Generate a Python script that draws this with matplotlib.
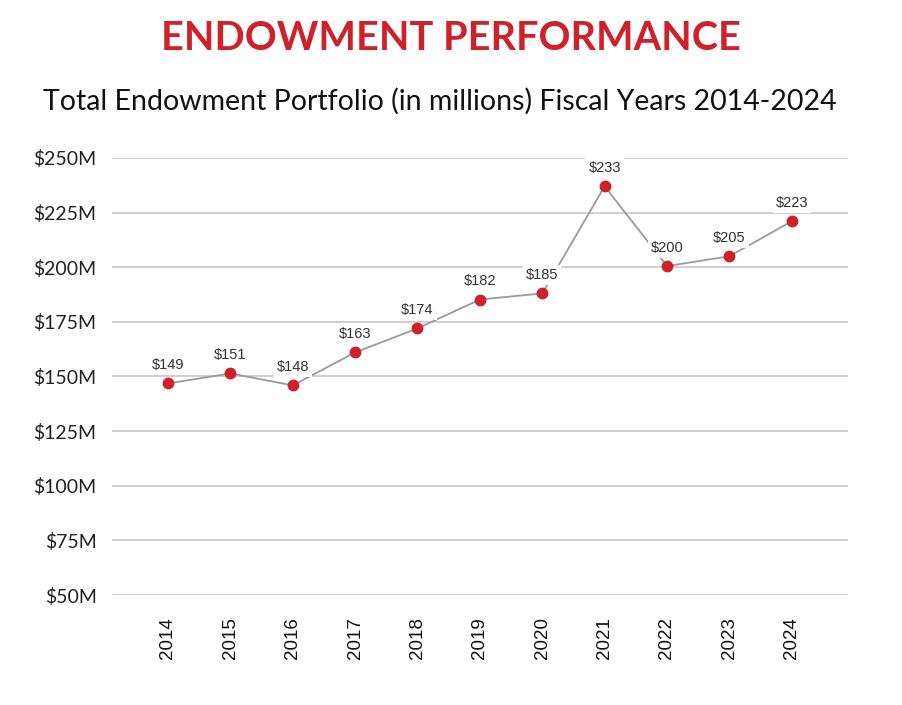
import matplotlib
matplotlib.use("Agg")
import matplotlib.pyplot as plt

anios = [2014, 2015, 2016, 2017, 2018, 2019, 2020, 2021, 2022, 2023, 2024]
# posiciones (en millones)
valores = [146.8, 151.4, 145.9, 161.0, 172.0, 185.2, 188.0, 237.0, 200.5, 205.0, 221.0]
etiquetas = ["$149", "$151", "$148", "$163", "$174", "$182", "$185", "$233", "$200", "$205", "$223"]
ticks_y = [50, 75, 100, 125, 150, 175, 200, 225, 250]
ticks_y_txt = ["$50M", "$75M", "$100M", "$125M", "$150M", "$175M", "$200M", "$225M", "$250M"]

rojo = "#D0202A"

fig = plt.figure(figsize=(9.02, 7.05), dpi=100)
ax = fig.add_axes([0.124, 0.156, 0.816, 0.62])

ax.plot(anios, valores, color="#9a9a9a", linewidth=1.3, zorder=2)
ax.plot(anios, valores, "o", color=rojo, markersize=7.5, zorder=4)

for x, y, t in zip(anios, valores, etiquetas):
    ax.annotate(t, (x, y), xytext=(0, 8), textcoords="offset points",
                ha="center", va="bottom", fontsize=10.5, color="#333333",
                family="Liberation Sans", zorder=3,
                bbox=dict(boxstyle="square,pad=0.2", fc="white", ec="none"))

ax.set_xlim(2013.1, 2024.9)
ax.set_ylim(50, 250)
ax.set_yticks(ticks_y)
ax.set_yticklabels(ticks_y_txt, family="Lato", fontsize=14, color="#222222")
ax.set_xticks(anios)
ax.set_xticklabels([str(a) for a in anios], rotation=90, family="Liberation Sans",
                   fontsize=13.5, color="#111111")
ax.tick_params(axis="both", length=0)
ax.tick_params(axis="y", pad=11)
ax.tick_params(axis="x", pad=16)
ax.grid(axis="y", color="#cccccc", linewidth=1.3)
ax.set_axisbelow(True)
for s in ax.spines.values():
    s.set_visible(False)

fig.text(0.5, 0.945, "ENDOWMENT PERFORMANCE", ha="center", va="center",
         family="Lato", fontweight="bold", fontsize=28.5, color=rojo)
fig.text(0.488, 0.856, "Total Endowment Portfolio (in millions) Fiscal Years 2014-2024",
         ha="center", va="center", family="Lato", fontsize=20.5, color="#111111")

fig.savefig("out.png", dpi=100)
